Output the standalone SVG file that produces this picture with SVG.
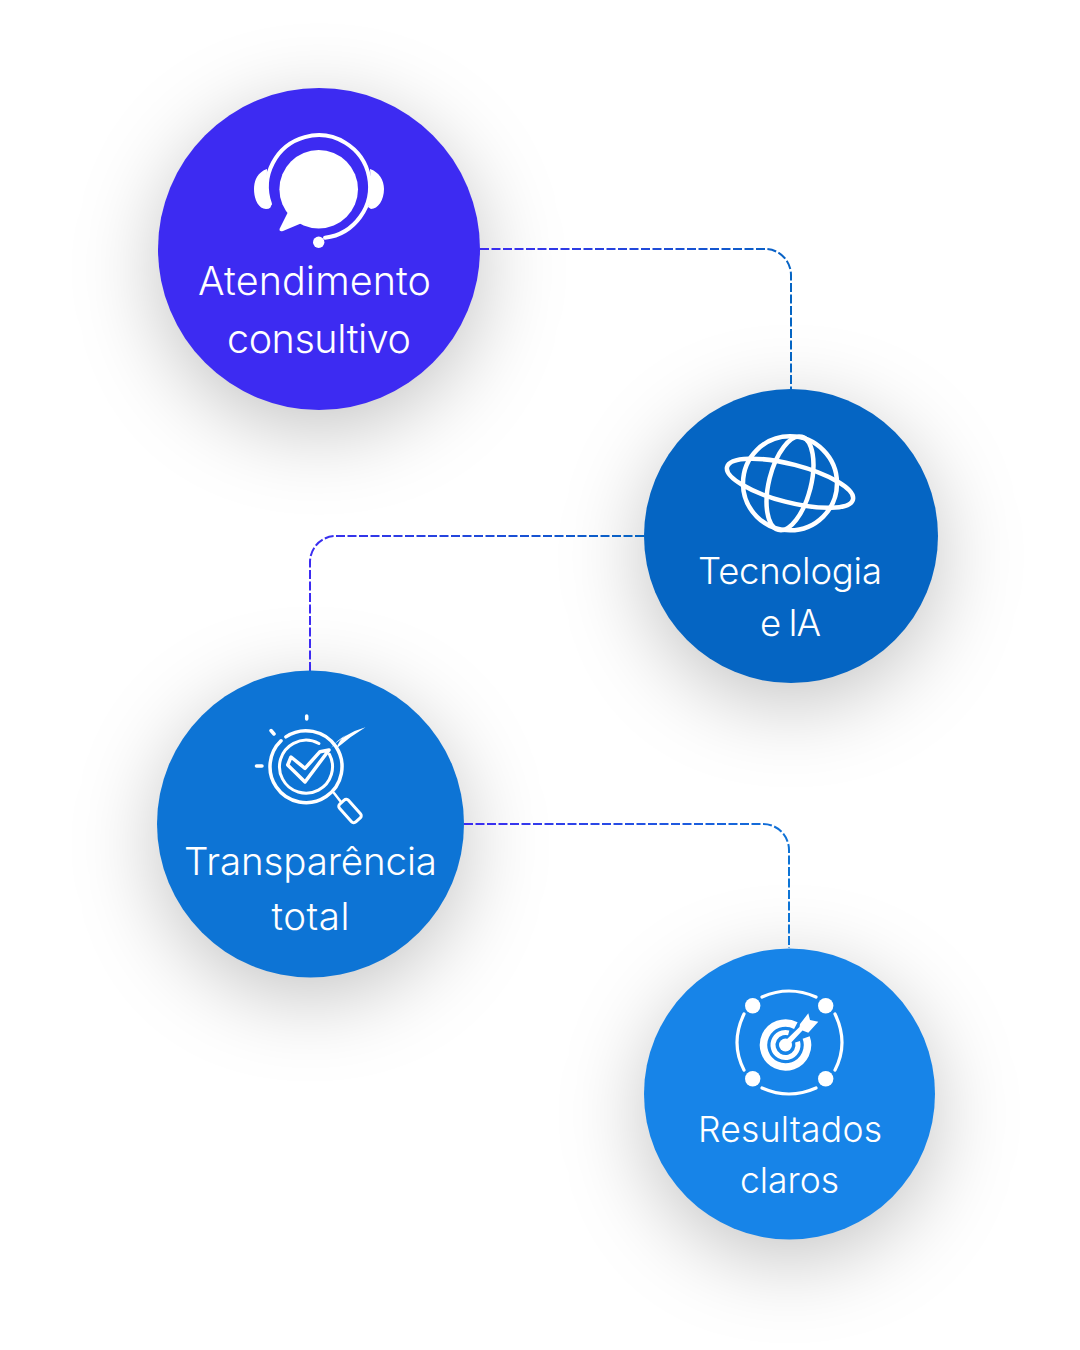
<svg xmlns="http://www.w3.org/2000/svg" width="1080" height="1350" viewBox="0 0 1080 1350">
<style>
text{font-family:"Inter","Noto Sans",sans-serif;font-weight:300;fill:#fff;text-anchor:middle}
.c{fill:none;stroke-width:2;stroke-dasharray:9 2.5}
.l{fill:none;stroke:#fff;stroke-linecap:round;stroke-linejoin:round}
.f{fill:#fff}
</style>
<defs>
<filter id="s" x="-60%" y="-60%" width="220%" height="220%"><feGaussianBlur stdDeviation="42"/></filter>
<linearGradient id="g1" gradientUnits="userSpaceOnUse" x1="480" y1="249" x2="791" y2="300"><stop offset="0" stop-color="#3d2bf2"/><stop offset="1" stop-color="#0565c3"/></linearGradient>
<linearGradient id="g2" gradientUnits="userSpaceOnUse" x1="644" y1="536" x2="310" y2="600"><stop offset="0" stop-color="#0565c3"/><stop offset="1" stop-color="#3d2bf2"/></linearGradient>
<linearGradient id="g3" gradientUnits="userSpaceOnUse" x1="464" y1="824" x2="789" y2="880"><stop offset="0" stop-color="#3d2bf2"/><stop offset="1" stop-color="#0d74d5"/></linearGradient>
</defs>
<rect width="1080" height="1350" fill="#fff"/>
<g id="shadows" fill="#000" fill-opacity=".24" filter="url(#s)">
<circle cx="319" cy="269" r="160"/>
<circle cx="791" cy="556" r="146"/>
<circle cx="310.500" cy="844" r="152"/>
<circle cx="789.500" cy="1114" r="144"/>
</g>
<g id="connectors">
<path class="c" stroke="url(#g1)" d="M480 249H765A26 26 0 0 1 791 275V389"/>
<path class="c" stroke="url(#g2)" d="M644 536H336A26 26 0 0 0 310 562V671"/>
<path class="c" stroke="url(#g3)" d="M464 824H763A26 26 0 0 1 789 850V948"/>
</g>
<g id="node1">
<circle cx="319" cy="249" r="161" fill="#3d2bf2"/>
<circle class="f" cx="318.700" cy="189.300" r="39.300"/>
<path class="f" d="M288 212L279.500 229Q279 232 283 231L302 223Z"/>
<path class="l" stroke-width="4" d="M270 204A51.500 51.500 0 1 1 325 237.800"/>
<circle class="f" cx="318.700" cy="242.300" r="5.700"/>
<path class="f" d="M267 169C258 172 254 180 254 189C254 200 259 209 266 209Q272 209 271 204Q266 187 267 169Z"/>
<path class="f" d="M370 169C379 172 384 180 384 189C384 200 378 209 371 209L368 207Q372 190 370 169Z"/>
<text x="314.500" y="294.500" font-size="39.500" textLength="233">Atendimento</text>
<text x="319" y="352.500" font-size="39.500" textLength="184">consultivo</text>
</g>
<g id="node2">
<circle cx="791" cy="536" r="147" fill="#0565c3"/>
<g class="l" stroke-width="4.500">
<circle cx="790" cy="483.300" r="47"/>
<ellipse cx="790" cy="483.300" rx="65" ry="19" transform="rotate(14.500 790 483.300)"/>
<ellipse cx="790" cy="483.300" rx="48" ry="21" transform="rotate(-76 790 483.300)"/>
</g>
<text x="790" y="584" font-size="36.500" textLength="184">Tecnologia</text>
<text x="790.500" y="636" font-size="36.500" textLength="61">e IA</text>
</g>
<g id="node3">
<circle cx="310.500" cy="824" r="153.500" fill="#0d74d5"/>
<circle class="l" stroke-width="3.500" stroke-linecap="butt" cx="306" cy="766.700" r="36" pathLength="360" stroke-dasharray="350 10" transform="rotate(236 306 766.700)"/>
<circle class="l" stroke-width="3" stroke-linecap="butt" cx="306" cy="766.700" r="26.500" pathLength="360" stroke-dasharray="327 33" transform="rotate(-28 306 766.700)"/>
<path class="l" stroke-width="3.500" d="M291 757L287.700 765L305 782L329 750L320 751.700L305 768.300Z"/>
<path class="f" d="M328 751Q344 733 365.500 727.300Q351 736 337 748Q338 741 346 735Q336 741 331 748Z"/>
<path class="l" stroke-width="2.500" d="M334 793L341 802"/>
<rect class="l" stroke-width="3" x="344" y="799" width="12" height="24" rx="3" transform="rotate(-42 350 811)"/>
<path class="l" stroke-width="3.500" d="M306.700 716V719M271 730.500L274 734M256.500 766H262"/>
<text x="310.500" y="875" font-size="38.500" textLength="253">Transparência</text>
<text x="310.500" y="930" font-size="38.500" textLength="78">total</text>
</g>
<g id="node4">
<circle cx="789.500" cy="1094" r="145.500" fill="#1784e8"/>
<g class="l" stroke-width="3.200">
<path d="M762 997Q789 985 816 997"/><path d="M762 1088Q789 1100 816 1088"/>
<path d="M744 1014Q730 1043 744 1070"/><path d="M835 1014Q849 1043 835 1070"/>
</g>
<g class="f">
<circle cx="752.700" cy="1005.700" r="7.700"/><circle cx="825.700" cy="1005.700" r="7.700"/><circle cx="752.700" cy="1078.700" r="7.700"/><circle cx="825.700" cy="1078.700" r="7.700"/>
<circle cx="785.500" cy="1045" r="6.500"/>
<path d="M808.300 1013.300L810 1020L818.300 1021.700L808.300 1032.700L802.500 1030.500L787 1047L783 1043L799.500 1027L800 1024Z"/>
</g>
<circle fill="none" stroke="#fff" stroke-width="7.500" cx="785.500" cy="1045" r="22" pathLength="360" stroke-dasharray="318 42" transform="rotate(-20 785.500 1045)"/>
<circle fill="none" stroke="#fff" stroke-width="5" cx="785.500" cy="1045" r="12.500" pathLength="360" stroke-dasharray="300 60" transform="rotate(-15 785.500 1045)"/>
<text x="790" y="1142" font-size="35.500" textLength="184">Resultados</text>
<text x="789.500" y="1193" font-size="35.500" textLength="99">claros</text>
</g>
</svg>
